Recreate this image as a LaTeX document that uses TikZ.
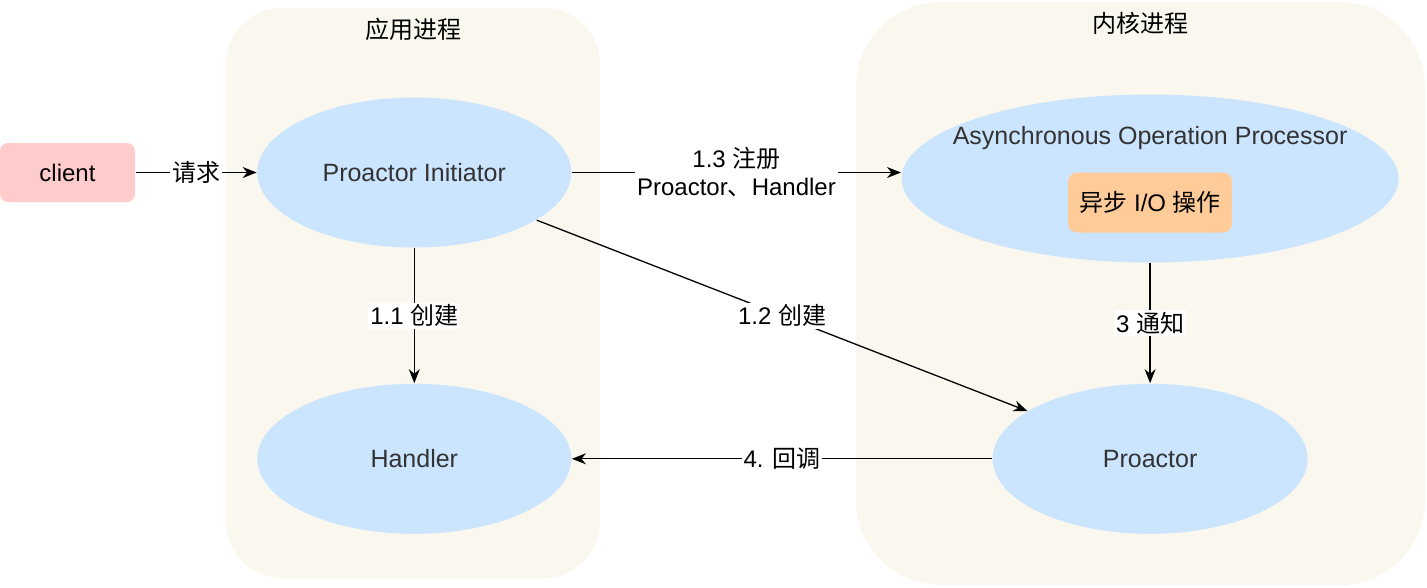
\documentclass[tikz,border=0pt]{standalone}
\usepackage{fontspec}
\setmainfont{Liberation Sans}
\newfontfamily\cjk{Noto Sans CJK SC}
\newcommand\zh[1]{{\cjk #1}}
\usetikzlibrary{positioning, arrows.meta, shapes.geometric}
\definecolor{procbg}{HTML}{F9F7EE}
\definecolor{roleblue}{HTML}{CCE5FF}
\definecolor{clientred}{HTML}{FFCCCC}
\definecolor{opsorange}{HTML}{FFCC99}
\definecolor{roletext}{HTML}{333333}
\tikzset{
  process/.style = {rectangle, fill = procbg, draw = none},
  role/.style = {ellipse, fill = roleblue, text = roletext, inner sep = 0pt,
    font = \fontsize{25}{30}\selectfont},
  edge label/.style = {fill = white, inner sep = 2pt, align = center}
}

\begin{document}
\begin{tikzpicture}[x = 1pt, y = -1pt, font = \fontsize{24}{28}\selectfont, -{Stealth[length = 14pt, width = 11pt]}, line width = 1.3pt, draw = black]
  \useasboundingbox (0,0) rectangle (1427,587);

  % process boxes
  \node (app) [process, rounded corners = 56pt, minimum width = 374pt, minimum height = 570pt] at (413,293) {};
  \node (kernel) [process, rounded corners = 85pt, minimum width = 569pt, minimum height = 583pt] at (1140.5,293.5) {};
  \node (apptitle) at ([yshift = -22pt]app.north) {\zh{应用进程}};
  \node (kerneltitle) at ([yshift = -22pt]kernel.north) {\zh{内核进程}};

  \node (client) [fill = clientred, rounded corners = 8pt, minimum width = 135pt, minimum height = 59pt] at (67.5,172.5) {client};
  \node (init) [role, minimum width = 314pt, minimum height = 150pt, right = 121pt of client] {Proactor Initiator};
  \node (handler) [role, minimum width = 314pt, minimum height = 150pt, below = 135pt of init] {Handler};
  \node (proactor) [role, minimum width = 315pt, minimum height = 150pt, right = 420pt of handler] {Proactor};
  \node (async) [role, minimum width = 497pt, minimum height = 168pt, above = 120pt of proactor] {};
  \node (asynctitle) [text = roletext, font = \fontsize{25}{30}\selectfont] at ([yshift = 40pt]async.center) {Asynchronous Operation Processor};
  \node (ops) [fill = opsorange, rounded corners = 9pt, minimum width = 164pt, minimum height = 60pt] at ([yshift = -24pt]async.center) {\zh{异步} I/O \zh{操作}};

  \draw (client) -- node [edge label] {\zh{请求}} (init);
  \draw (init) -- node [edge label] {1.3 \zh{注册}\\Proactor\zh{、}Handler} (init -| async.west);
  \draw (init) -- node [edge label] {1.1 \zh{创建}} (handler);
  \draw (init) -- node [edge label] {1.2 \zh{创建}} (proactor);
  \draw (async) -- node [edge label] {3 \zh{通知}} (proactor);
  \draw (proactor) -- node [edge label] {4. \zh{回调}} (handler);
\end{tikzpicture}
\end{document}
